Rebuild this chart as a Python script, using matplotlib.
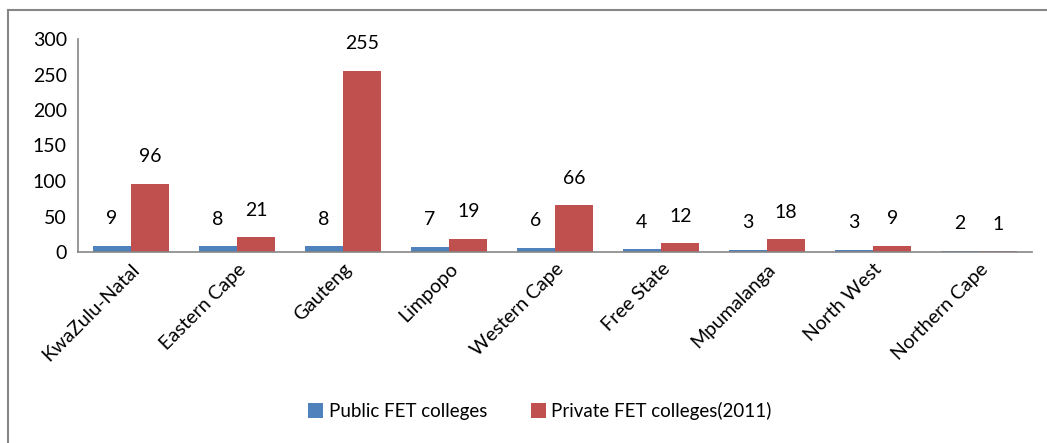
import numpy as np
import matplotlib
matplotlib.use("Agg")
import matplotlib.pyplot as plt
from matplotlib.lines import Line2D

provinces = ["KwaZulu-Natal", "Eastern Cape", "Gauteng", "Limpopo", "Western Cape",
             "Free State", "Mpumalanga", "North West", "Northern Cape"]
public = [9, 8, 8, 7, 6, 4, 3, 3, 2]
private = [96, 21, 255, 19, 66, 12, 18, 9, 1]
series_names = ["Public FET colleges", "Private FET colleges(2011)"]

plt.rcParams['font.family'] = ['Lato', 'DejaVu Sans']

W, H = 1047, 443
fig = plt.figure(figsize=(W / 100, H / 100), dpi=100)
ax = fig.add_axes([78 / W, 1 - 252 / H, (1032 - 78) / W, (252 - 39) / H])

x = np.arange(len(provinces))
bw = 0.363
b1 = ax.bar(x - bw / 2, public, bw, color='#4F81BD', label=series_names[0])
b2 = ax.bar(x + bw / 2, private, bw, color='#C0504D', label=series_names[1])

for bars in (b1, b2):
    for rect in bars:
        ax.annotate(f"{rect.get_height():g}",
                    (rect.get_x() + rect.get_width() / 2, rect.get_height()),
                    xytext=(0, 19.5), textcoords='offset points',
                    ha='center', va='center', fontsize=14, color='black')

ax.set_xlim(-0.5, len(provinces) - 0.5)
ax.set_ylim(0, 300)
ax.set_yticks(range(0, 301, 50))
ax.set_xticks(x)
ax.set_xticklabels(provinces, rotation=45, ha='right', va='top',
                   rotation_mode='anchor', fontsize=14)
ax.tick_params(axis='y', length=0, labelsize=14, pad=8)
ax.tick_params(axis='x', length=0, pad=6)

for s in ['top', 'right']:
    ax.spines[s].set_visible(False)
for s in ['left', 'bottom']:
    ax.spines[s].set_color('#868686')
    ax.spines[s].set_linewidth(1.2)

fig.legend(loc='center', bbox_to_anchor=(540 / W, 1 - 411 / H), ncol=2,
           frameon=False, fontsize=13.5, handlelength=0.8, handleheight=0.8,
           handletextpad=0.3, columnspacing=2.3)

# outer chart border (partly cropped in the reference)
fig.add_artist(Line2D([7.5 / W, 1], [1 - 9.5 / H, 1 - 9.5 / H], color='#868686', lw=1.5))
fig.add_artist(Line2D([7.5 / W, 7.5 / W], [0, 1 - 9.5 / H], color='#868686', lw=1.5))

fig.savefig("out.png", dpi=100)
